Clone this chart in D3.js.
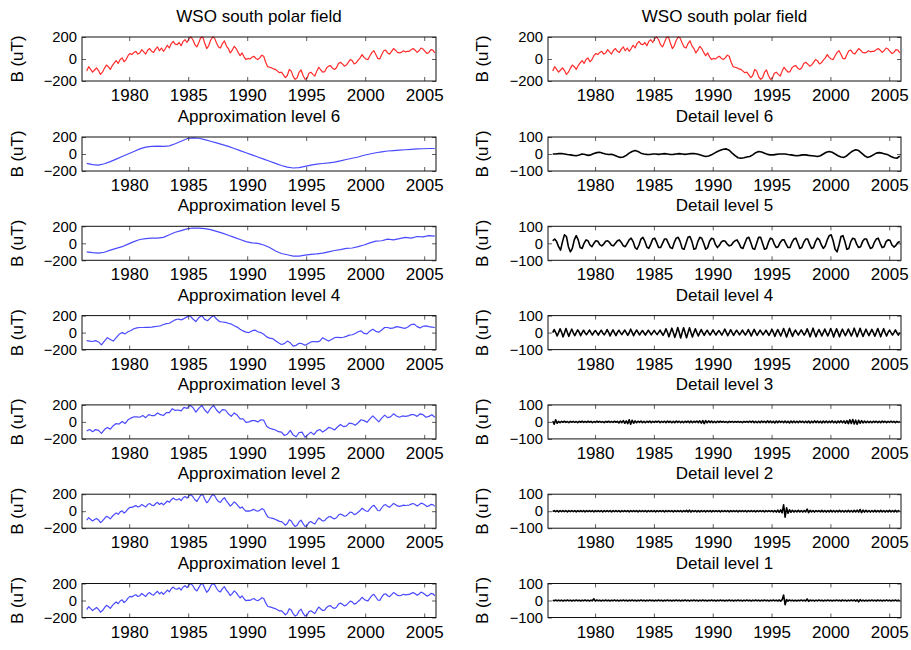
<!DOCTYPE html>
<html>
<head>
<meta charset="utf-8">
<script src="https://cdn.jsdelivr.net/npm/d3@7"></script>
<style>
  body { margin: 0; background: #fff; }
  text { font-family: "Liberation Sans", Arial, Helvetica, sans-serif; fill: #000; }
</style>
</head>
<body>
<svg id="fig" width="911" height="650"></svg>
<script>
// WSO south polar field and its 6-level wavelet decomposition.
// Every series is sampled on a regular grid that starts at firstSample.
const firstSample = 1976.4;

const xTicks = [1980, 1985, 1990, 1995, 2000, 2005];
const fieldTicks = [-200, 0, 200];
const detailTicks = [-100, 0, 100];

const leftTitles = ["WSO south polar field", "Approximation level 6", "Approximation level 5",
  "Approximation level 4", "Approximation level 3", "Approximation level 2", "Approximation level 1"];
const rightTitles = ["WSO south polar field", "Detail level 6", "Detail level 5",
  "Detail level 4", "Detail level 3", "Detail level 2", "Detail level 1"];

// Observed polar field, 6 samples per year (uT)
const polarField = [
  -110, -70, -95, -120,
  -100, -80, -105, -140, -120, -85,
  -55, -70, -95, -60, -35, -15,
  -40, -5, 10, -25, -5, 30,
  50, 40, 60, 70, 45, 55,
  85, 65, 45, 80, 95, 70,
  60, 90, 110, 75, 100, 70,
  95, 125, 100, 140, 160, 135,
  130, 150, 120, 160, 175, 150,
  185, 200, 175, 130, 110, 150,
  195, 200, 145, 95, 120, 170,
  200, 190, 145, 110, 100, 140,
  165, 120, 95, 55, 80, 115,
  95, 60, 30, 55, 20, -5,
  5, 0, 15, 25, 5, -5,
  10, 35, 25, -30, -70, -75,
  -80, -90, -95, -110, -125, -120,
  -145, -170, -150, -95, -110, -160,
  -185, -170, -120, -100, -150, -185,
  -175, -130, -120, -140, -155, -110,
  -75, -100, -120, -115, -80, -65,
  -60, -85, -95, -80, -40, -30,
  -45, -65, -55, -30, -5, -15,
  -45, -35, -10, 10, 40, 15,
  0, -5, 30, 60, 75, 40,
  5, 0, 40, 75, 80, 55,
  45, 70, 95, 80, 60, 55,
  60, 75, 65, 70, 70, 85,
  95, 80, 60, 75, 100, 90,
  70, 50, 60, 85, 80, 55
];

// Approximation level 1, 6 samples per year
const approx1 = [
  -108, -72, -96, -118,
  -99, -82, -104, -138, -118, -86,
  -57, -71, -93, -61, -36, -17,
  -38, -6, 8, -24, -4, 28,
  48, 42, 59, 68, 47, 56,
  83, 64, 47, 79, 93, 71,
  62, 89, 108, 77, 98, 72,
  96, 123, 102, 138, 158, 136,
  132, 149, 122, 159, 174, 152,
  184, 198, 173, 132, 112, 151,
  193, 198, 144, 97, 121, 168,
  198, 188, 144, 112, 101, 139,
  163, 121, 94, 57, 81, 113,
  93, 61, 32, 53, 21, -3,
  4, 1, 14, 23, 6, -3,
  11, 33, 23, -28, -68, -76,
  -81, -89, -96, -109, -123, -121,
  -143, -168, -148, -97, -112, -158,
  -183, -168, -122, -102, -149, -183,
  -173, -131, -121, -139, -153, -111,
  -77, -99, -118, -113, -81, -66,
  -61, -84, -93, -79, -42, -31,
  -44, -63, -54, -31, -7, -16,
  -43, -34, -11, 9, 38, 16,
  1, -4, 29, 58, 73, 41,
  6, 2, 39, 73, 79, 56,
  46, 69, 93, 79, 61, 56,
  61, 74, 66, 70, 71, 84,
  93, 79, 61, 76, 98, 89,
  71, 52, 61, 83, 79, 56
];

// Approximation level 2, 6 samples per year
const approx2 = [
  -105, -76, -97, -115,
  -98, -85, -103, -134, -115, -88,
  -60, -72, -90, -62, -38, -20,
  -36, -8, 5, -22, -3, 26,
  46, 44, 57, 66, 49, 57,
  80, 63, 50, 78, 90, 72,
  64, 88, 105, 79, 96, 74,
  97, 120, 105, 135, 155, 137,
  134, 147, 125, 157, 172, 155,
  182, 195, 170, 135, 115, 152,
  190, 195, 143, 100, 122, 165,
  195, 185, 143, 114, 103, 138,
  160, 122, 93, 60, 82, 110,
  90, 62, 35, 50, 22, 0,
  3, 2, 13, 21, 7, 0,
  12, 30, 20, -25, -65, -77,
  -82, -88, -97, -108, -120, -122,
  -140, -165, -145, -100, -115, -155,
  -180, -165, -125, -105, -147, -180,
  -170, -132, -122, -138, -150, -112,
  -80, -98, -115, -110, -82, -67,
  -62, -82, -90, -77, -45, -33,
  -43, -60, -53, -32, -10, -17,
  -40, -32, -12, 8, 35, 17,
  2, -2, 28, 55, 70, 42,
  8, 5, 38, 70, 77, 57,
  47, 68, 90, 78, 62, 57,
  62, 72, 67, 70, 72, 83,
  90, 78, 62, 77, 95, 88,
  72, 55, 62, 80, 77, 57
];

// Approximation level 3, 4 samples per year
const approx3 = [
  -105, -90, -115,
  -90, -100, -135, -90,
  -65, -85, -45, -20,
  -25, 5, -20, 25,
  45, 60, 60, 55,
  75, 50, 85, 75,
  75, 105, 85, 75,
  110, 110, 155, 135,
  140, 130, 170, 160,
  195, 170, 115, 160,
  195, 140, 105, 160,
  195, 140, 105, 145,
  140, 95, 65, 105,
  80, 35, 35, -5,
  0, 15, 15, 0,
  25, 20, -50, -75,
  -85, -95, -115, -120,
  -160, -145, -100, -155,
  -175, -125, -120, -180,
  -150, -120, -150, -105,
  -90, -120, -95, -65,
  -75, -95, -60, -30,
  -55, -50, -15, -20,
  -40, -10, 25, 15,
  -5, 35, 70, 35,
  0, 45, 80, 50,
  60, 95, 70, 55,
  70, 65, 70, 85,
  85, 65, 95, 85,
  55, 65, 85, 55
];

// Approximation level 4, 4 samples per year
const approx4 = [
  -95, -100, -105,
  -95, -110, -145, -100,
  -60, -80, -100, -60,
  -20, 0, -15, 10,
  25, 45, 55, 60,
  60, 62, 62, 65,
  70, 75, 80, 95,
  105, 110, 130, 150,
  160, 150, 165, 185,
  200, 160, 130, 175,
  200, 155, 140, 175,
  200, 160, 130, 125,
  120, 110, 100, 80,
  65, 40, 20, 5,
  0, 20, 30, 10,
  0, -20, -50, -65,
  -70, -95, -120, -140,
  -130, -100, -120, -160,
  -150, -125, -130, -150,
  -130, -110, -105, -110,
  -100, -60, -80, -100,
  -80, -60, -55, -60,
  -55, -45, -30, -25,
  -10, 10, 20, -10,
  -15, 20, 40, 15,
  5, 30, 60, 60,
  50, 55, 70, 65,
  55, 50, 70, 95,
  100, 70, 55, 75,
  80, 70, 65, 60
];

// Approximation level 5, 2 samples per year
const approx5 = [
  -100, -110, -115, -105, -80, -60, -40, -10, 20, 45,
  55, 60, 60, 70, 100, 130, 150, 170, 180, 178,
  172, 160, 140, 120, 95, 70, 45, 20, 5, 0,
  -20, -50, -90, -120, -135, -150, -150, -140, -130, -125,
  -115, -100, -85, -75, -60, -55, -40, -20, 5, 25,
  30, 50, 40, 55, 70, 60, 80, 75, 90, 85
];

// Approximation level 6, 2 samples per year
const approx6 = [
  -110, -125, -130, -115, -90, -60, -30, 0, 30, 60,
  80, 90, 92, 90, 95, 120, 150, 180, 190, 185,
  170, 150, 130, 110, 90, 65, 40, 15, -10, -35,
  -60, -85, -110, -135, -155, -165, -160, -145, -130, -120,
  -112, -105, -95, -80, -65, -50, -35, -15, 0, 15,
  25, 35, 40, 45, 50, 55, 60, 62, 65, 65
];

// Detail level 6, 4 samples per year
const detail6 = [
  0, 0, 2,
  3, 0, -3, -5,
  -8, -10, -6, 0,
  -3, -8, -5, 3,
  8, 10, 5, 0,
  -3, -2, -8, -15,
  -20, -18, -8, 5,
  15, 20, 15, 5,
  0, -2, -3, 0,
  0, -2, 0, 2,
  0, -3, -2, 0,
  2, 0, -2, 0,
  2, 3, 0, -5,
  -10, -15, -12, -5,
  5, 15, 22, 28,
  30, 22, 5, -10,
  -22, -25, -22, -18,
  -15, -5, 8, 15,
  12, 5, -2, -5,
  -5, -2, 0, 0,
  0, -3, -5, -8,
  -10, -8, -5, -5,
  -8, -10, -12, -15,
  -10, 0, 10, 15,
  10, 0, -10, -18,
  -20, -10, 5, 18,
  25, 20, 5, -10,
  -20, -15, -5, 5,
  8, 5, 0, -5,
  -15, -22, -25, -12
];

// Detail level 5, 6 samples per year
const detail5 = [
  15, 25, 10, -20,
  -40, 10, 50, 40, -20, -50,
  -30, 20, 45, 20, -25, -30,
  0, 20, 15, -10, -20, 0,
  15, 12, -8, -15, -5, 12,
  15, 5, -12, -15, 0, 15,
  20, 5, -15, -20, 0, 20,
  30, 10, -25, -35, -10, 25,
  35, 12, -22, -30, -5, 25,
  30, 5, -25, -25, 0, 25,
  25, 0, -25, -30, 5, 30,
  35, 10, -30, -35, 0, 35,
  40, 10, -35, -30, 10, 35,
  30, 0, -35, -25, 12, 30,
  25, -8, -25, -12, 8, 15,
  12, -5, -15, -12, 5, 15,
  20, 0, -25, -30, 0, 30,
  35, 5, -30, -35, 0, 35,
  35, 0, -35, -30, 5, 30,
  25, -5, -25, -20, 5, 20,
  20, -5, -25, -25, 5, 25,
  30, 0, -30, -25, 5, 25,
  25, -5, -30, -25, 10, 30,
  20, -10, -30, -15, 20, 45,
  50, 15, -35, -50, -10, 40,
  45, 10, -35, -30, 10, 30,
  25, -5, -25, -20, 10, 25,
  25, -5, -30, -25, 5, 25,
  30, 0, -25, -20, 10, 20,
  18, -10, -22, -12, 5, 10
];

// Detail level 4, 8 samples per year
const detail4 = [
  0, 18, 2, -20, 0,
  22, 3, -25, -2, 24, 0, -22, 2,
  20, -1, -18, 0, 16, 2, -18, 0,
  14, -2, -12, 1, 15, 0, -14, 2,
  12, 0, -15, 1, 14, -2, -13, 0,
  18, 2, -20, 0, 16, -1, -18, 1,
  14, 0, -12, 2, 15, 0, -16, -1,
  20, 1, -18, 0, 15, 2, -14, 0,
  12, -1, -15, 0, 14, 1, -13, 0,
  13, 0, -12, 1, 15, -1, -16, 0,
  22, 2, -25, 0, 26, 1, -28, -2,
  30, 2, -32, 0, 28, -1, -30, 0,
  28, 1, -26, 0, 22, 0, -20, 1,
  18, 0, -16, 1, 14, -1, -15, 0,
  16, 0, -14, 1, 12, 0, -15, 2,
  20, 1, -18, -1, 17, 0, -16, 0,
  14, 1, -13, 0, 15, -1, -14, 0,
  18, 0, -20, 1, 19, 0, -17, 0,
  15, 1, -13, 0, 14, -1, -16, 0,
  20, 1, -22, 0, 18, 0, -20, 1,
  24, 0, -26, -1, 25, 1, -22, 0,
  15, 0, -14, 1, 16, 0, -15, 0,
  22, 1, -25, 0, 26, -1, -24, 0,
  18, 0, -20, 1, 21, 0, -19, 0,
  24, 2, -26, 0, 22, 0, -25, 1,
  20, 0, -18, 0, 21, 1, -20, 0,
  26, 1, -24, 0, 25, -1, -22, 0,
  20, 0, -18, 1, 19, 0, -21, 0,
  24, 1, -25, 0, 23, 0, -20, 1,
  15, 0, -14, 0, 16, -1, -15, 0
];

// Detail level 3, 8 samples per year
const detail3 = [
  5, -14, 12, -8, 3,
  -4, 3, -2, 4, -3, 2, -4, 3,
  -2, 3, -3, 2, -4, 3, -2, 4,
  -3, 2, -3, 4, -2, 3, -4, 2,
  -3, 4, -2, 3, -3, 2, -4, 3,
  -2, 4, -3, 2, -3, 4, -2, 3,
  -6, 5, -4, 7, -8, 6, -10, 12,
  -14, 10, -8, 6, -5, 4, -3, 5,
  -4, 3, -5, 4, -3, 5, -4, 3,
  -3, 4, -2, 5, -4, 3, -3, 4,
  -4, 5, -3, 4, -5, 3, -4, 5,
  -3, 4, -4, 3, -5, 4, -3, 5,
  -4, 5, -5, 4, -3, 5, -4, 6,
  -7, 8, -10, 7, -5, 6, -4, 5,
  -4, 3, -5, 4, -3, 4, -2, 3,
  -3, 2, -4, 3, -2, 3, -3, 2,
  -2, 3, -3, 2, -4, 3, -2, 3,
  -3, 4, -3, 5, -4, 3, -5, 4,
  -4, 5, -3, 4, -5, 6, -4, 5,
  -5, 4, -6, 5, -4, 5, -3, 4,
  -4, 5, -5, 4, -6, 5, -4, 5,
  -5, 4, -4, 5, -3, 4, -5, 4,
  -4, 5, -6, 4, -5, 6, -4, 5,
  -5, 4, -6, 5, -4, 5, -5, 4,
  -4, 6, -5, 4, -6, 5, -4, 6,
  -5, 6, -8, 7, -10, 12, -9, 14,
  -12, 10, -14, 9, -8, 7, -6, 5,
  -5, 4, -4, 3, -5, 4, -3, 4,
  -4, 3, -4, 5, -3, 4, -4, 3,
  -3, 4, -3, 3, -4, 3, -3, 2
];

// Detail level 2, 8 samples per year
const detail2 = [
  -3, 4, -3, 3, -4,
  3, -3, 4, -3, 3, -4, 3, -3,
  4, -3, 3, -4, 3, -3, 4, -3,
  3, -4, 3, -3, 4, -3, 3, -4,
  3, -3, 4, -3, 3, -4, 3, -3,
  4, -3, 3, -4, 3, -3, 4, -3,
  3, -4, 3, -3, 4, -3, 3, -4,
  3, -3, 4, -3, 3, -4, 3, -3,
  4, -3, 3, -4, 3, -3, 4, -3,
  3, -4, 3, -3, 4, -3, 3, -4,
  3, -3, 4, -3, 3, -4, 3, -3,
  4, -3, 3, -4, 3, -3, 5, -4,
  6, -5, 4, -3, 4, -4, 3, -4,
  4, -3, 3, -4, 4, -3, 3, -4,
  3, -3, 4, -3, 3, -4, 3, -3,
  4, -3, 3, -4, 3, -3, 4, -3,
  3, -4, 3, -3, 4, -3, 3, -4,
  3, -3, 4, -3, 3, -4, 3, -3,
  4, -3, 3, -4, 3, -3, 4, -3,
  3, -4, 4, -5, 6, -6, 8, -10,
  38, -35, 20, -12, 8, -6, 5, -5,
  4, -4, 5, -4, 4, -5, 4, -4,
  12, -8, 5, -4, 4, -5, 4, -3,
  4, -4, 5, -4, 4, -5, 4, -4,
  5, -4, 4, -5, 4, -4, 5, -4,
  4, -5, 4, -4, 5, -4, 4, -5,
  5, -4, 6, -5, 10, -8, 6, -5,
  5, -4, 4, -5, 4, -4, 5, -4,
  4, -4, 5, -4, 4, -5, 4, -4,
  5, -4, 4, -4, 5, -4, 4, -3
];

// Detail level 1, 8 samples per year
const detail1 = [
  2, -2, 3, -2, 2,
  -2, 2, -3, 2, -2, 3, -2, 2,
  -3, 2, -2, 3, -2, 2, -3, 2,
  -2, 3, -2, 2, -3, 2, -2, 10,
  -4, 3, -2, 2, -3, 2, -2, 3,
  -2, 2, -3, 2, -2, 3, -2, 2,
  -3, 2, -2, 3, -2, 2, -3, 2,
  -2, 3, -2, 2, -3, 2, -2, 3,
  -2, 2, -3, 2, -2, 3, -2, 2,
  -3, 2, -2, 3, -2, 2, -3, 2,
  -2, 3, -2, 2, -3, 2, -2, 3,
  -2, 2, -3, 2, -2, 3, -2, 2,
  -3, 2, -2, 3, -2, 2, -3, 2,
  -2, 3, -2, 2, -3, 2, -2, 3,
  -2, 2, -3, 2, -2, 3, -2, 2,
  -3, 2, -2, 3, -2, 2, -3, 2,
  -2, 3, -2, 2, -3, 2, -2, 3,
  -2, 2, -3, 2, -2, 3, -2, 2,
  -3, 2, -2, 3, -2, 2, -3, 2,
  -2, 3, -2, 2, -3, 3, -4, 5,
  32, -25, 6, -4, 3, -2, 2, -3,
  2, -3, 2, -2, 3, -2, 2, -3,
  9, -5, 3, -2, 2, -3, 2, -2,
  3, -2, 2, -3, 2, -2, 3, -2,
  2, -3, 2, -2, 3, -2, 2, -3,
  3, -2, 2, -3, 2, -2, 3, -2,
  3, -4, 4, -8, 5, -3, 2, -3,
  2, -3, 2, -2, 3, -2, 2, -3,
  3, -2, 2, -3, 2, -2, 3, -2,
  2, -3, 2, -2, 3, -2, 2, -3
];

const RED = "#ff2b2b", BLUE = "#4a4aff", BLACK = "#000000";

// Panel table: column 0 = approximations, column 1 = details
const panels = [
  { col: 0, row: 0, values: polarField, perYear: 6, color: RED,  ticks: fieldTicks },
  { col: 1, row: 0, values: polarField, perYear: 6, color: RED,  ticks: fieldTicks },
  { col: 0, row: 1, values: approx6,    perYear: 2, color: BLUE, ticks: fieldTicks },
  { col: 1, row: 1, values: detail6,    perYear: 4, color: BLACK, ticks: detailTicks },
  { col: 0, row: 2, values: approx5,    perYear: 2, color: BLUE, ticks: fieldTicks },
  { col: 1, row: 2, values: detail5,    perYear: 6, color: BLACK, ticks: detailTicks },
  { col: 0, row: 3, values: approx4,    perYear: 4, color: BLUE, ticks: fieldTicks },
  { col: 1, row: 3, values: detail4,    perYear: 8, color: BLACK, ticks: detailTicks },
  { col: 0, row: 4, values: approx3,    perYear: 4, color: BLUE, ticks: fieldTicks },
  { col: 1, row: 4, values: detail3,    perYear: 8, color: BLACK, ticks: detailTicks },
  { col: 0, row: 5, values: approx2,    perYear: 6, color: BLUE, ticks: fieldTicks },
  { col: 1, row: 5, values: detail2,    perYear: 8, color: BLACK, ticks: detailTicks },
  { col: 0, row: 6, values: approx1,    perYear: 6, color: BLUE, ticks: fieldTicks },
  { col: 1, row: 6, values: detail1,    perYear: 8, color: BLACK, ticks: detailTicks }
];

// Layout
const colX = [[82, 436], [548, 901]];
const rowTop = r => r === 0 ? 37 : 137 + (r - 1) * 89.3;
const rowH = r => r === 0 ? 44 : 34;
const tickLen = 4;
const fontSize = 17;      // titles, x tick labels, y labels
const yTickFont = 14.8;   // y tick labels sit only 17px apart

const svg = d3.select("#fig");
svg.append("rect").attr("width", 911).attr("height", 650).attr("fill", "#fff");

panels.forEach((p, idx) => {
  const [x0, x1] = colX[p.col];
  const top = rowTop(p.row), h = rowH(p.row), bottom = top + h;
  const x = d3.scaleLinear().domain([1976, 2006]).range([x0, x1]);
  const y = d3.scaleLinear().domain([p.ticks[0], p.ticks[2]]).range([bottom, top]);

  const g = svg.append("g");
  const clipId = "clip" + idx;
  g.append("clipPath").attr("id", clipId)
    .append("rect").attr("x", x0).attr("y", top - 1).attr("width", x1 - x0).attr("height", h + 2);

  // data line
  const pts = p.values.map((v, i) => ({ t: firstSample + i / p.perYear, v }));
  g.append("path")
    .datum(pts)
    .attr("clip-path", `url(#${clipId})`)
    .attr("fill", "none")
    .attr("stroke", p.color)
    .attr("stroke-width", p.color === BLACK ? 1.6 : 1.2)
    .attr("stroke-linejoin", "round")
    .attr("d", d3.line().x(d => x(d.t)).y(d => y(d.v)));

  // bottom axis with labels; ticks point into the box
  const xb = g.append("g").attr("transform", `translate(0,${bottom})`)
    .call(d3.axisBottom(x).tickValues(xTicks).tickFormat(d3.format("d")).tickSize(-tickLen).tickPadding(8));
  // top axis, ticks only
  const xt = g.append("g").attr("transform", `translate(0,${top})`)
    .call(d3.axisTop(x).tickValues(xTicks).tickFormat("").tickSize(-tickLen));
  // left axis with labels
  const yl = g.append("g").attr("transform", `translate(${x0},0)`)
    .call(d3.axisLeft(y).tickValues(p.ticks).tickFormat(d3.format("d")).tickSize(-tickLen).tickPadding(5));
  // right axis, ticks only
  const yr = g.append("g").attr("transform", `translate(${x1},0)`)
    .call(d3.axisRight(y).tickValues(p.ticks).tickFormat("").tickSize(-tickLen));

  [xb, xt, yl, yr].forEach(a => {
    a.select(".domain").remove();
    a.selectAll("line").attr("stroke", "#333").attr("stroke-width", 0.8);
    a.selectAll("text").attr("font-size", fontSize)
      .attr("font-family", '"Liberation Sans", Arial, sans-serif').attr("fill", "#000");
  });
  yl.selectAll("text").attr("font-size", yTickFont)
    .text(d => d < 0 ? "\u2212" + Math.abs(d) : d);

  // box
  g.append("rect").attr("x", x0).attr("y", top).attr("width", x1 - x0).attr("height", h)
    .attr("fill", "none").attr("stroke", "#111").attr("stroke-width", 1);

  // title
  g.append("text")
    .attr("x", (x0 + x1) / 2).attr("y", top - 15)
    .attr("text-anchor", "middle").attr("font-size", fontSize)
    .text(p.col === 0 ? leftTitles[p.row] : rightTitles[p.row]);

  // y label
  const lx = p.col === 0 ? 17 : 482;
  g.append("text")
    .attr("transform", `translate(${lx},${top + h / 2}) rotate(-90)`)
    .attr("text-anchor", "middle").attr("dy", "0.35em").attr("font-size", fontSize)
    .text("B (uT)");
});
</script>
</body>
</html>
